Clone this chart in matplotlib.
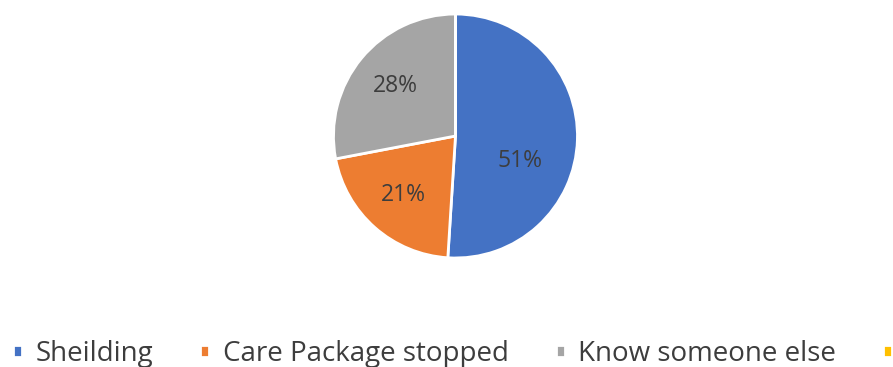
import matplotlib
matplotlib.use("Agg")

import numpy as np
import matplotlib.pyplot as plt

# data
labels = ["Sheilding", "Care Package stopped", "Know someone else", "Other"]
shares = [51, 21, 28, 0]
colors = ["#4472C4", "#ED7D31", "#A5A5A5", "#FFC000"]

TEXT_COLOR = "#3d3d3d"
plt.rcParams["font.family"] = ["Open Sans", "DejaVu Sans"]

fig = plt.figure(figsize=(8.93, 3.67), dpi=100)
ax = fig.add_axes([0.3393, 0.2139, 0.3415, 0.831])


def pct_label(p):
    return f"{p:.0f}%" if p > 0.5 else ""


wedges, texts, autotexts = ax.pie(
    shares,
    colors=colors,
    startangle=90,
    counterclock=False,
    autopct=pct_label,
    pctdistance=0.64,
    wedgeprops={"edgecolor": "white", "linewidth": 2},
    textprops={"color": TEXT_COLOR, "fontsize": 16.5},
)

# Excel "best fit" puts the big slice label a bit lower than its mid angle
ang = np.deg2rad(-21)
autotexts[0].set_position((0.57 * np.cos(ang), 0.57 * np.sin(ang)))

ax.set_xlim(-1.25, 1.25)
ax.set_ylim(-1.25, 1.25)
ax.set_aspect("equal")

leg = fig.legend(
    wedges,
    labels,
    loc="center left",
    bbox_to_anchor=(0.0145, 0.035),
    ncol=4,
    frameon=False,
    borderpad=0,
    borderaxespad=0,
    handlelength=0.31,
    handleheight=0.31,
    handletextpad=0.5,
    columnspacing=1.7,
    fontsize=20,
)
for t in leg.get_texts():
    t.set_color(TEXT_COLOR)

fig.savefig("out.png", dpi=100)
